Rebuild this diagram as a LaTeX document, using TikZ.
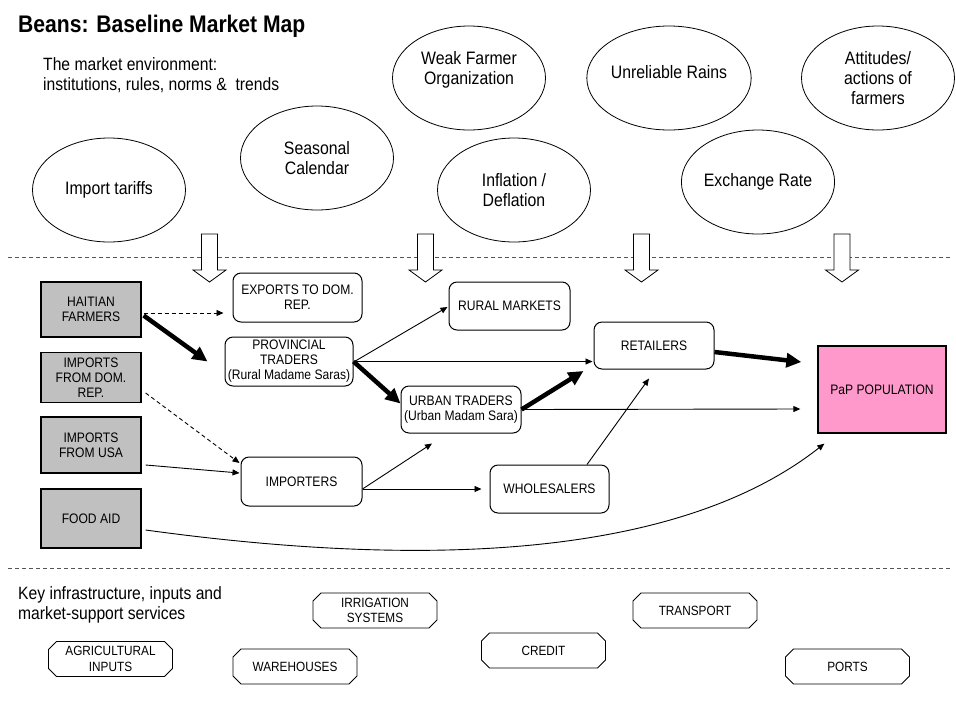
\documentclass[tikz,border=0pt]{standalone}
\usepackage{fontspec}
\setmainfont{Liberation Sans}[FakeStretch=0.88]
\usetikzlibrary{shapes.geometric,shapes.misc,arrows.meta,calc}
\definecolor{boxgray}{HTML}{C0C0C0}
\definecolor{pappink}{HTML}{FF99CC}
\definecolor{dashgray}{HTML}{555555}
\begin{document}
\begin{tikzpicture}[x=1pt,y=-1pt,
  ell/.style={ellipse, draw, line width=0.8pt, minimum width=153pt, minimum height=104pt, inner sep=0pt, align=center, font=\fontsize{18}{20}\selectfont},
  gbox/.style={rectangle, draw, fill=boxgray, line width=1.3pt, minimum width=100pt, inner sep=0pt, align=center, font=\fontsize{13.75}{15}\selectfont},
  rbox/.style={rectangle, rounded corners=8pt, draw, line width=1pt, inner sep=0pt, align=center, font=\fontsize{13.75}{15}\selectfont},
  pbox/.style={rectangle, draw, fill=pappink, line width=1.3pt, inner sep=0pt, align=center, font=\fontsize{13.75}{15}\selectfont},
  cbox/.style={chamfered rectangle, chamfered rectangle xsep=4pt, chamfered rectangle ysep=4pt, draw, line width=0.8pt, inner sep=0pt, align=center, minimum width=124pt, minimum height=35pt, font=\fontsize{13.4}{15.5}\selectfont},
  plaintext/.style={inner sep=0pt, align=left, font=\fontsize{17.8}{20}\selectfont},
  thinarr/.style={line width=0.9pt, -{Triangle[length=7pt,width=6pt]}},
  thickarr/.style={line width=4.5pt, -{Triangle[length=15pt,width=14pt]}},
  dasharr/.style={thinarr, dash pattern=on 4pt off 3pt},
  sepline/.style={dashgray, line width=0.8pt, dash pattern=on 4pt off 3pt},
  downblock/.pic={\draw[line width=0.8pt, fill=white] (-8,0) -- (8,0) -- (8,36) -- (16.5,36) -- (0,48) -- (-16.5,36) -- (-8,36) -- cycle;}
]
\useasboundingbox (0,0) rectangle (956,721);

% title and section texts
\node[anchor=base west, inner sep=0pt, font=\fontsize{24}{28}\selectfont\bfseries] (title) at (18,32) {Beans: Baseline Market Map};
\node[plaintext, anchor=north west] (envtext) at (43,57) {The market environment:\\institutions, rules, norms \&\ \ trends};
\node[plaintext, anchor=north west] (inftext) at (18,586.5) {Key infrastructure, inputs and\\market-support services};

% environment ellipses
\node[ell] (tariffs) at (109,190) {Import tariffs};
\node[ell] (seasonal) at (317,158) {Seasonal\\Calendar};
\node[ell] (weak) at (469,78) {Weak Farmer\\Organization\\\mbox{}};
\node[ell] (rains) at (669,78) {Unreliable Rains\\[-8pt]\mbox{}};
\node[ell] (attitudes) at (878,78) {Attitudes/\\actions of\\farmers};
\node[ell] (inflation) at (514,190) {Inflation /\\Deflation};
\node[ell] (exchange) at (758,182) {Exchange Rate};

% separator lines
\draw[sepline] (8,257) -- (950,257);
\draw[sepline] (8,568) -- (950,568);

% block arrows
\pic at (209.5,234) {downblock};
\pic at (425.5,234) {downblock};
\pic at (641.5,234) {downblock};
\pic at (842,234) {downblock};

% market chain actors
\node[gbox, minimum height=55pt] (hf) at (91,309.5) {HAITIAN\\FARMERS};
\node[gbox, minimum height=50pt] (idr) at (91,377.5) {IMPORTS\\FROM DOM.\\REP.};
\node[gbox, minimum height=56pt] (iusa) at (91,445) {IMPORTS\\FROM USA};
\node[gbox, minimum height=59pt] (fa) at (91,518.5) {FOOD AID};

\node[rbox, minimum width=129pt, minimum height=49pt] (exp) at (297.5,297.5) {EXPORTS TO DOM.\\REP.};
\node[rbox, minimum width=128pt, minimum height=49pt] (prov) at (289,361.5) {PROVINCIAL\\TRADERS\\(Rural Madame Saras)};
\node[rbox, minimum width=121pt, minimum height=48pt] (rural) at (509.5,306) {RURAL MARKETS};
\node[rbox, minimum width=120pt, minimum height=47pt] (urban) at (461,409.5) {URBAN TRADERS\\(Urban Madam Sara)};
\node[rbox, minimum width=120pt, minimum height=47pt] (ret) at (654,345.5) {RETAILERS};
\node[rbox, minimum width=121pt, minimum height=49pt] (imp) at (301.5,481.5) {IMPORTERS};
\node[rbox, minimum width=119pt, minimum height=48pt] (whole) at (549.5,489) {WHOLESALERS};
\node[pbox, minimum width=128pt, minimum height=87pt] (pap) at (882,389.5) {PaP POPULATION};

% connectors
\draw[dasharr] ($(hf.east)+(2,3.5)$) -- ($(exp.west)+(-9,15.5)$);
\draw[thickarr] ($(hf.east)+(2,6)$) -- ($(prov.west)+(-17,0)$);
\draw[dasharr] ($(idr.east)+(4,15.5)$) -- ($(imp.west)+(-1,-18.5)$);
\draw[thinarr] ($(iusa.east)+(4,20)$) -- ($(imp.west)+(-1,-8.5)$);
\draw[thinarr] ($(prov.east)+(1,0)$) -- ($(rural.west)+(-1,1)$);
\draw[thinarr] ($(prov.east)+(1,0)$) -- ($(ret.west)+(-1,16)$);
\draw[thickarr] ($(prov.east)+(0,0)$) -- ($(urban.west)+(0,-6)$);
\draw[thickarr] ($(urban.east)+(0,0)$) -- ($(ret.west)+(-10,25.5)$);
\draw[thinarr] (urban.east) -- ($(pap.west)+(-17,19.5)$);
\draw[thickarr] ($(ret.east)+(0,6.5)$) -- ($(pap.west)+(-16,-27.5)$);
\draw[thinarr] ($(imp.east)+(0,7.5)$) -- ($(urban.south)+(-29,10)$);
\draw[thinarr] ($(imp.east)+(0,7.5)$) -- ($(whole.west)+(-8,0)$);
\draw[thinarr] ($(whole.north)+(37.5,0)$) -- ($(ret.south)+(-5,9)$);
\draw[thinarr] ($(fa.east)+(4,11.5)$) .. controls (400,565) and (670,565) .. ($(pap.south west)+(7,10)$);

% infrastructure and services
\node[cbox] (irr) at (375,610.5) {IRRIGATION\\SYSTEMS};
\node[cbox] (trans) at (695,610.5) {TRANSPORT};
\node[cbox] (agri) at (110.5,659) {AGRICULTURAL\\INPUTS};
\node[cbox] (ware) at (295,666.5) {WAREHOUSES};
\node[cbox] (credit) at (543.5,650.5) {CREDIT};
\node[cbox] (ports) at (847.5,666.5) {PORTS};
\end{tikzpicture}
\end{document}
